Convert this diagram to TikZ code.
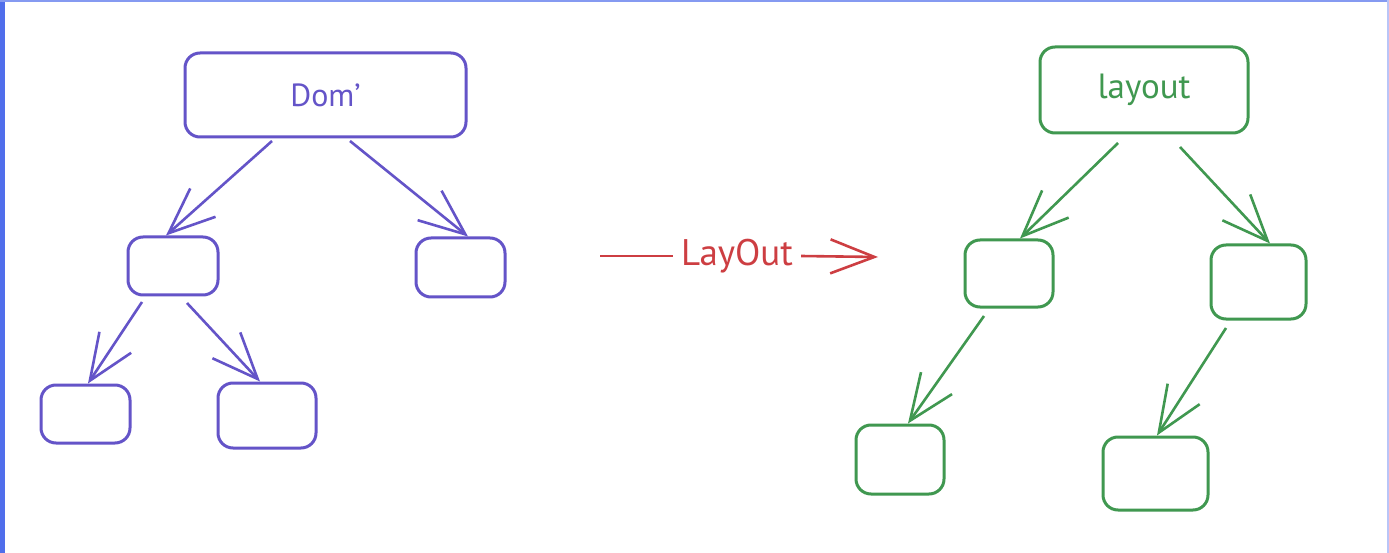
\documentclass[tikz,border=0pt]{standalone}
\usepackage{fontspec}
\setmainfont{PT Sans}
\usetikzlibrary{arrows.meta}
\definecolor{dblue}{RGB}{100,84,200}
\definecolor{dgreen}{RGB}{64,152,80}
\definecolor{dred}{RGB}{205,62,66}
\definecolor{frameblue}{RGB}{80,110,235}
\tikzset{
  box/.style={draw, line width=3pt, rounded corners=15pt, inner sep=0pt},
  conn/.style={line width=2.6pt, -{Straight Barb[length=46pt,width=38pt]}},
  lbl/.style={font=\fontsize{32}{34}\selectfont}
}
\begin{document}
\begin{tikzpicture}[x=1pt,y=-1pt]
\useasboundingbox (0,0) rectangle (1389,553);
\fill[white] (0,0) rectangle (1389,553);
\fill[frameblue] (0,0) rectangle (5,553);
\fill[frameblue!70] (0,0) rectangle (1389,2.5);
\fill[frameblue!40] (1386.5,0) rectangle (1389,553);
% blue tree
\begin{scope}[dblue]
\node[box, minimum width=281pt, minimum height=84pt, lbl] (dom) at (325.5,95) {Dom'};
\node[box, minimum width=90pt, minimum height=58pt] (b1) at (173,266) {};
\node[box, minimum width=89pt, minimum height=59pt] (b2) at (460.5,267.5) {};
\node[box, minimum width=89pt, minimum height=58pt] (b3) at (85.5,414) {};
\node[box, minimum width=98pt, minimum height=65pt] (b4) at (267,415.5) {};
\coordinate (d1s) at (272,141); \coordinate (d2s) at (350,141);
\coordinate (b1s) at (142,302); \coordinate (b1t) at (187,303);
\draw[conn] (d1s) -- (b1.north west -| 166,235);
\draw[conn] (d2s) -- (b2.north -| 468,236);
\draw[conn] (b1s) -- (b3.north -| 88,378);
\draw[conn] (b1t) -- (b4.north -| 260,380);
\end{scope}
% green tree
\begin{scope}[dgreen]
\node[box, minimum width=208pt, minimum height=86pt, lbl, font=\fontsize{35}{38}\selectfont] (lay) at (1144,90) {layout};
\node[box, minimum width=88pt, minimum height=67pt] (g1) at (1009,273.5) {};
\node[box, minimum width=95pt, minimum height=74pt] (g2) at (1258.5,282) {};
\node[box, minimum width=88pt, minimum height=69pt] (g3) at (900,459.5) {};
\node[box, minimum width=105pt, minimum height=73pt] (g4) at (1155.5,473.5) {};
\coordinate (l1s) at (1118,143); \coordinate (l2s) at (1180,147);
\coordinate (g1s) at (984,316); \coordinate (g2s) at (1226,328);
\draw[conn] (l1s) -- (g1.north -| 1020,234);
\draw[conn] (l2s) -- (g2.north -| 1270,243);
\draw[conn] (g1s) -- (g3.north -| 908,410);
\draw[conn] (g2s) -- (g4.north -| 1157,433);
\end{scope}
% red arrow
\begin{scope}[dred]
\node[lbl, inner sep=8pt, font=\fontsize{37}{40}\selectfont] (lo) at (737,256) {LayOut};
\coordinate (rs) at (600,256);
\coordinate (re) at (878,257);
\draw[line width=2.6pt] (rs) -- (lo.west);
\draw[line width=2.6pt, -{Straight Barb[length=44pt,width=34pt]}] (lo.east) -- (re);
\end{scope}
\end{tikzpicture}
\end{document}
